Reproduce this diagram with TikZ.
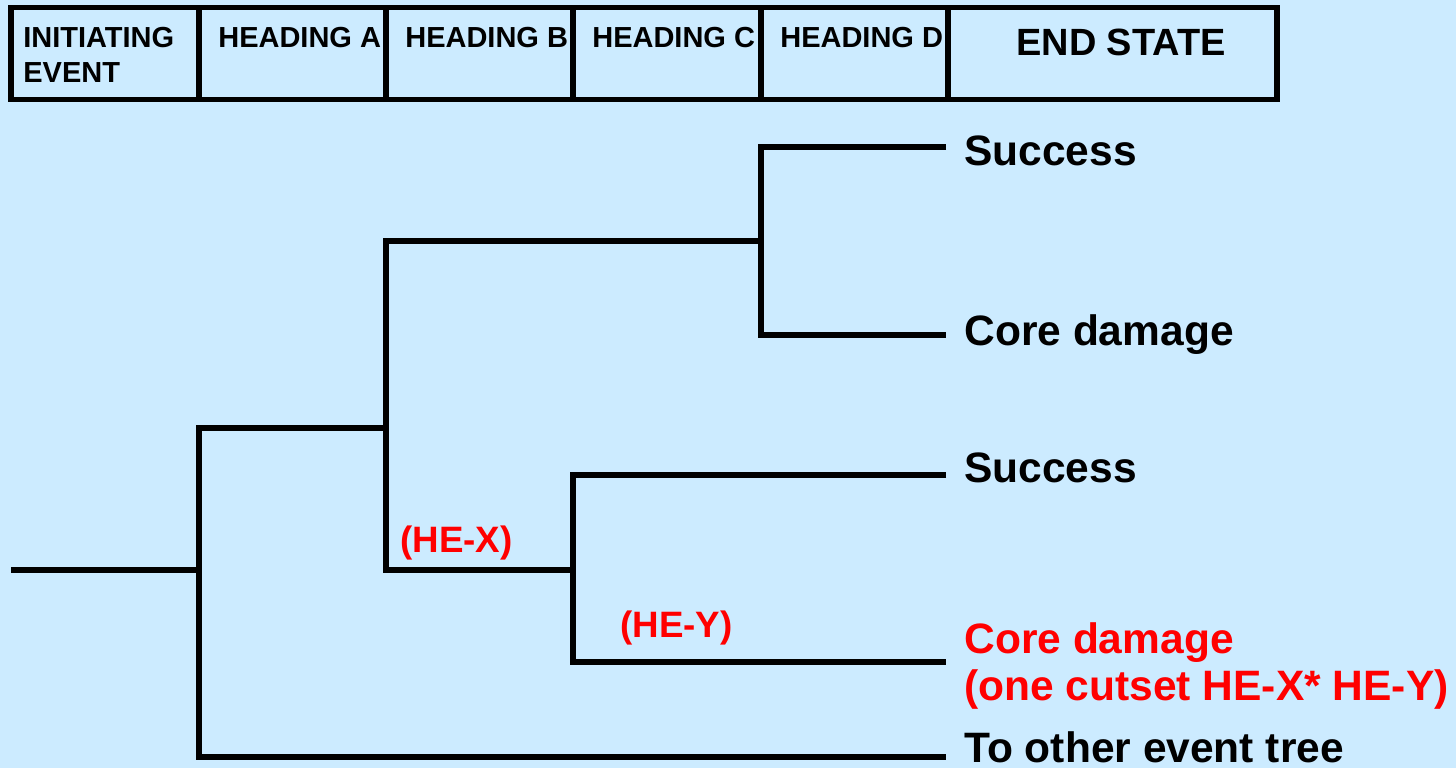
\documentclass[tikz,border=0pt]{standalone}
\usepackage{fontspec}
\setmainfont{Liberation Sans}
\usetikzlibrary{positioning}

\definecolor{sheet}{RGB}{204,235,255}
\definecolor{hered}{RGB}{255,0,0}

\tikzset{
  branch/.style={line width=3pt},
  cell/.style={line width=3pt},
  hdtext/.style={anchor=base west, inner sep=0pt, font=\bfseries\fontsize{16.5}{19}\selectfont},
  endtext/.style={anchor=base west, inner sep=0pt, font=\bfseries\fontsize{24.2}{28}\selectfont},
  hetext/.style={anchor=base west, inner sep=0pt, text=hered, font=\bfseries\fontsize{20.9}{24}\selectfont}
}

\begin{document}
\begin{tikzpicture}[x=0.02cm, y=-0.02cm]
        % Background
            \fill[sheet] (0,0) rectangle (1456,768);
            \useasboundingbox (0,0) rectangle (1456,768);

            % Header row
            \foreach \xa/\xb in {11/199, 199/386, 386/573, 573/761, 761/948, 948/1277}
                \draw[cell] (\xa,7.5) rectangle (\xb,99.5);
            \node[hdtext] (tIE) at (23,47) {INITIATING};
            \node[hdtext] (tIEb) at (23,82) {EVENT};
            \node[hdtext] (tA) at (218,47) {HEADING A};
            \node[hdtext] (tB) at (405,47) {HEADING B};
            \node[hdtext] (tC) at (592,47) {HEADING C};
            \node[hdtext] (tD) at (780,47) {HEADING D};
            \node[hdtext, font=\bfseries\fontsize{21.6}{24}\selectfont] (tES) at (1016,55) {END STATE};

            % Branch points
            \coordinate (ie) at (11,570);
            \coordinate (A) at (199,570);
            \coordinate (B) at (386,428);
            \coordinate (C) at (573,570);
            \coordinate (D) at (761,241);

            % Ends of the sequences
            \coordinate (eS1) at (946,147);
            \coordinate (eCD1) at (946,335);
            \coordinate (eS2) at (946,475);
            \coordinate (eCD2) at (946,662);
            \coordinate (eOT) at (946,757);

            % Tree
            \draw[branch] (ie) -- (A);
            \draw[branch] (B) -| (A) |- (eOT);
            \draw[branch] (D) -| (B) |- (C);
            \draw[branch] (eS1) -| (D) |- (eCD1);
            \draw[branch] (eS2) -| (C) |- (eCD2);

            % End states
            \node[endtext] (s1) at (964,165) {Success};
            \node[endtext] (cd1) at (964,345) {Core damage};
            \node[endtext] (s2) at (964,482) {Success};
            \node[endtext, text=hered] (cd2) at (964,653) {Core damage};
            \node[endtext, text=hered] (cut) at (964,700) {(one cutset HE-X* HE-Y)};
            \node[endtext] (oth) at (964,762) {To other event tree};

            % Human errors
            \node[hetext] (hx) at (400,552) {(HE-X)};
            \node[hetext] (hy) at (620,637) {(HE-Y)};

    \end{tikzpicture}
\end{document}
